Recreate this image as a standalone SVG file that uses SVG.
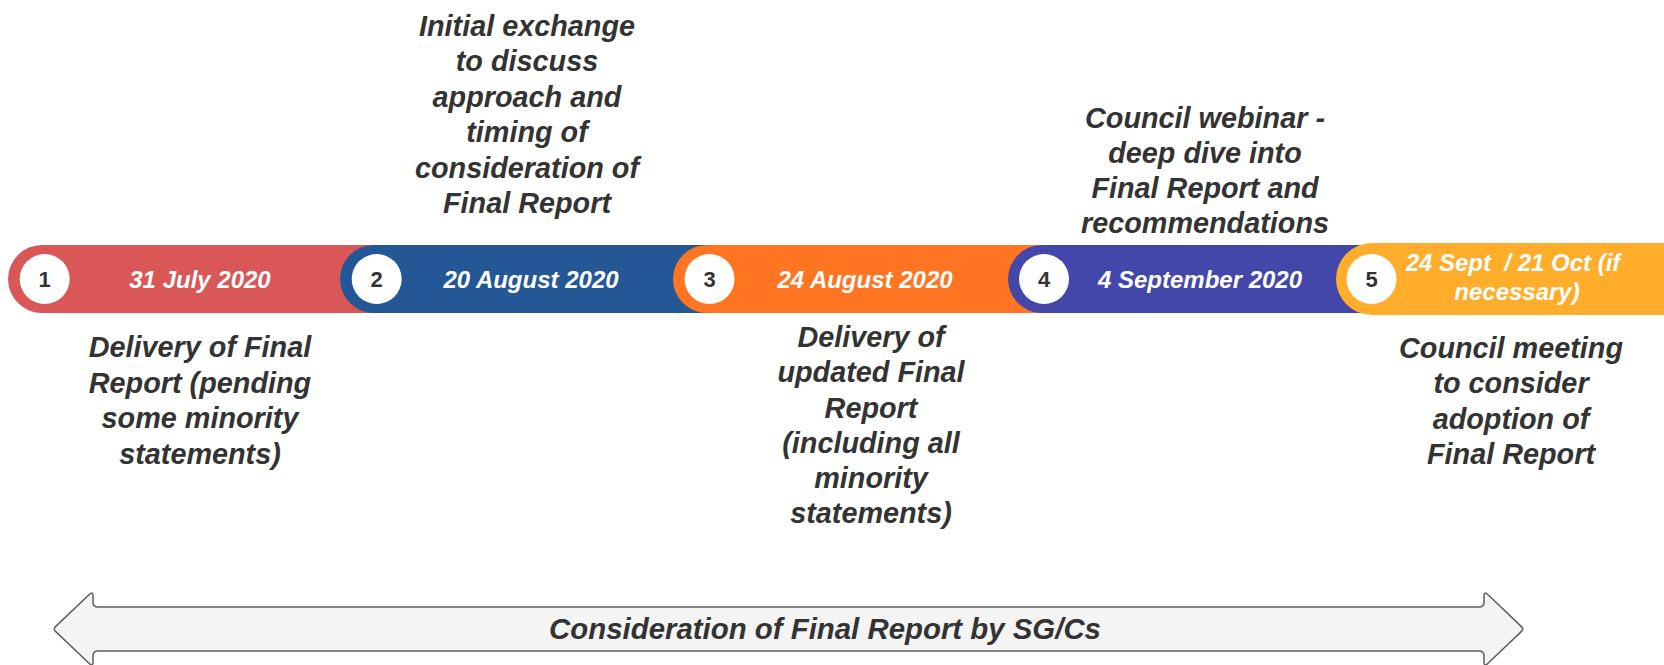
<svg xmlns="http://www.w3.org/2000/svg" width="1664" height="665" viewBox="0 0 1664 665">
<style>
.lbl{font-family:"Liberation Sans",Arial,sans-serif;font-weight:bold;font-style:italic;font-size:28.8px;fill:#333333;text-anchor:middle}
.date{font-family:"Liberation Sans",Arial,sans-serif;font-weight:bold;font-style:italic;font-size:24px;fill:#ffffff;text-anchor:middle}
.num{font-family:"Liberation Sans",Arial,sans-serif;font-weight:bold;font-size:22px;fill:#333333;text-anchor:middle}
.dot{fill:#ffffff}
</style>
<rect width="1664" height="665" fill="#ffffff"/>
<g id="connectors">
<path d="M 55.5,631.4 Q 53,629 55.5,626.6 L 89.5,594.3 Q 93,591 93,596 L 93,602 Q 93,607 98,607 L 1479,607 Q 1484,607 1484,602 L 1484,596 Q 1484,591 1487.5,594.3 L 1521.5,626.6 Q 1524,629 1521.5,631.4 L 1487.5,663.7 Q 1484,667 1484,662 L 1484,656 Q 1484,651 1479,651 L 98,651 Q 93,651 93,656 L 93,662 Q 93,667 89.5,663.7 Z" fill="#f4f4f4" stroke="#5e5e5e" stroke-width="1.5"/>
<text x="825" y="638.5" font-family="'Liberation Sans',Arial,sans-serif" font-weight="bold" font-style="italic" font-size="29.4" fill="#333333" text-anchor="middle">Consideration of Final Report by SG/Cs</text>
</g>
<g id="step1">
<rect x="8" y="245" width="420" height="68" rx="34" fill="#d95757"/>
<circle class="dot" cx="44.7" cy="279" r="25"/>
<text class="num" x="44.7" y="287">1</text>
<text class="date" x="200" y="287.5">31 July 2020</text>
<text class="lbl"><tspan x="200" y="357">Delivery of Final</tspan><tspan x="200" y="392.5">Report (pending</tspan><tspan x="200" y="428">some minority</tspan><tspan x="200" y="463.5">statements)</tspan></text>
</g>
<g id="step2">
<rect x="340" y="245" width="420" height="68" rx="34" fill="#235795"/>
<circle class="dot" cx="376.7" cy="279" r="25"/>
<text class="num" x="376.7" y="287">2</text>
<text class="date" x="531" y="287.5">20 August 2020</text>
<text class="lbl"><tspan x="527" y="35.5">Initial exchange</tspan><tspan x="527" y="71">to discuss</tspan><tspan x="527" y="106.5">approach and</tspan><tspan x="527" y="142">timing of</tspan><tspan x="527" y="177.5">consideration of</tspan><tspan x="527" y="213">Final Report</tspan></text>
</g>
<g id="step3">
<rect x="673" y="245" width="420" height="68" rx="34" fill="#ff7521"/>
<circle class="dot" cx="709.5" cy="279" r="25"/>
<text class="num" x="709.5" y="287">3</text>
<text class="date" x="865" y="287.5">24 August 2020</text>
<text class="lbl"><tspan x="871" y="347">Delivery of</tspan><tspan x="871" y="382">updated Final</tspan><tspan x="871" y="417.5">Report</tspan><tspan x="871" y="452.5">(including all</tspan><tspan x="871" y="488">minority</tspan><tspan x="871" y="523">statements)</tspan></text>
</g>
<g id="step4">
<rect x="1008" y="245" width="420" height="68" rx="34" fill="#4347a9"/>
<circle class="dot" cx="1044" cy="279" r="25"/>
<text class="num" x="1044" y="287">4</text>
<text class="date" x="1200" y="287.5">4 September 2020</text>
<text class="lbl"><tspan x="1205" y="127.5">Council webinar -</tspan><tspan x="1205" y="162.5">deep dive into</tspan><tspan x="1205" y="198">Final Report and</tspan><tspan x="1205" y="233">recommendations</tspan></text>
</g>
<g id="step5">
<rect x="1336" y="243" width="400" height="72" rx="36" fill="#ffad2a"/>
<circle class="dot" cx="1371.5" cy="279" r="25"/>
<text class="num" x="1371.5" y="287">5</text>
<text class="date" xml:space="preserve"><tspan x="1513" y="271">24 Sept  / 21 Oct (if</tspan><tspan x="1517" y="300">necessary)</tspan></text>
<text class="lbl"><tspan x="1511" y="357.5">Council meeting</tspan><tspan x="1511" y="393">to consider</tspan><tspan x="1511" y="428.5">adoption of</tspan><tspan x="1511" y="464">Final Report</tspan></text>
</g>
</svg>
